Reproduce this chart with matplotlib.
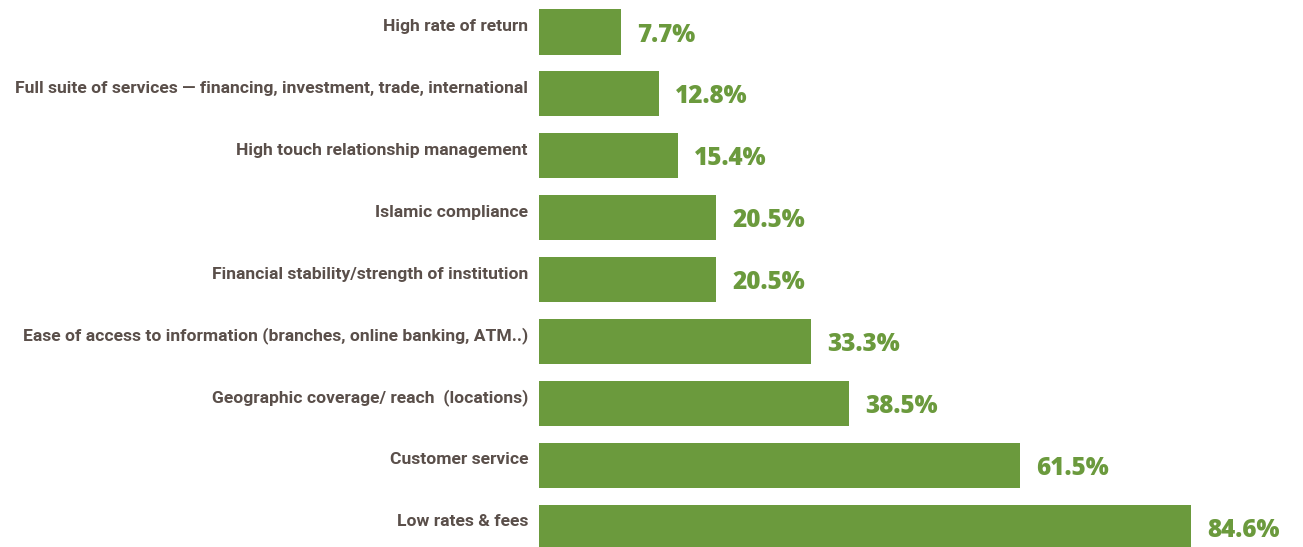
import numpy as np
import matplotlib
matplotlib.use("Agg")
import matplotlib.pyplot as plt

categories = [
    "High rate of return",
    "Full suite of services \u2014 financing, investment, trade, international",
    "High touch relationship management",
    "Islamic compliance",
    "Financial stability/strength of institution",
    "Ease of access to information (branches, online banking, ATM..)",
    "Geographic coverage/ reach  (locations)",
    "Customer service",
    "Low rates & fees",
]
values = [7.7, 12.8, 15.4, 20.5, 20.5, 33.3, 38.5, 61.5, 84.6]
value_labels = ["7.7%", "12.8%", "15.4%", "20.5%", "20.5%", "33.3%", "38.5%", "61.5%", "84.6%"]

GREEN = "#6b9a3d"
TEXT = "#5a4f4a"
W, H = 1303, 547
pad = 3.37  # bars start a bit before zero in the original

fig = plt.figure(figsize=(W / 100, H / 100), dpi=100)
ax = fig.add_axes([539 / W, 0, 1 - 539 / W, 1])

y = np.arange(len(values))
vals = np.array(values)
ax.barh(y, vals + pad, left=0, height=0.727, color=GREEN)

for yi, v, lab in zip(y, vals, value_labels):
    ax.text(v + pad + 2.2, yi + 0.05, lab, color=GREEN, fontsize=17.5,
            fontweight="heavy", family="Open Sans", va="center", ha="left")

for yi, cat in zip(y, categories):
    ax.text(-11 / 7.41, yi - 0.09, cat, color=TEXT, fontsize=12.6,
            fontweight="bold", family="Roboto", va="center", ha="right",
            clip_on=False)

ax.set_xlim(0, (W - 539) / 7.41)
ax.set_ylim((H - 32) / 61.9, -32 / 61.9)
ax.axis("off")

fig.savefig("out.png", dpi=100)
